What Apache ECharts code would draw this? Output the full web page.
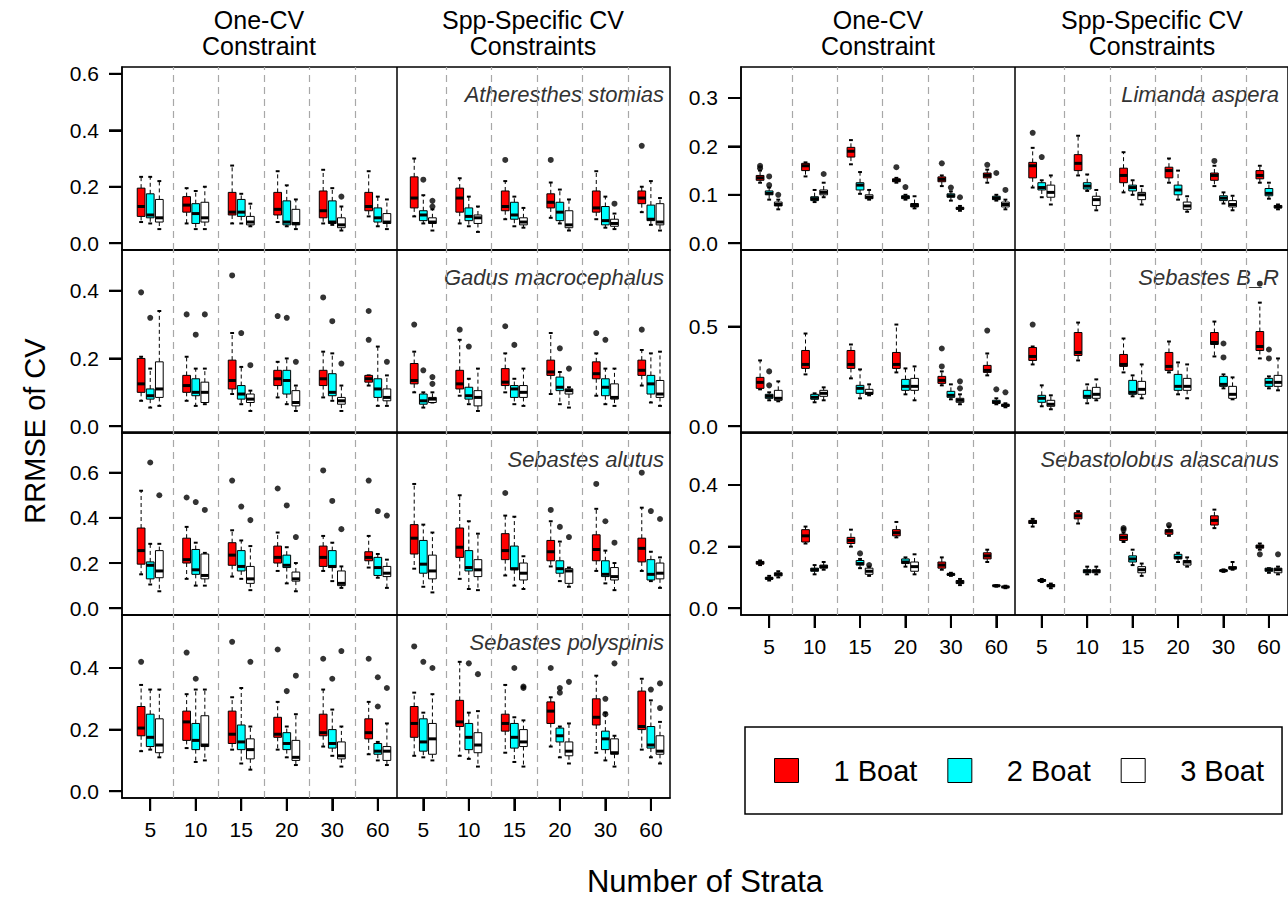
<!DOCTYPE html>
<html>
<head>
<meta charset="utf-8">
<script src="https://cdn.jsdelivr.net/npm/echarts@6.0.0/dist/echarts.min.js"></script>
<style>
html,body{margin:0;padding:0;background:#fff}
#chart{width:1288px;height:900px}
</style>
</head>
<body>
<div id="chart"></div>
<script>
// labels
var strataLabels=['5','10','15','20','30','60'];
var boatNames=['1 Boat','2 Boat','3 Boat'];
var constraintNames=[['One-CV','Constraint'],['Spp-Specific CV','Constraints']];
var speciesNames=['Atheresthes stomias','Gadus macrocephalus','Sebastes alutus','Sebastes polyspinis','Limanda aspera','Sebastes B_R','Sebastolobus alascanus'];
// y range top (before R's 4% padding) and tick labels of every panel
var yTop=[0.6,0.5,0.75,0.55,0.35,0.85,0.55];
var yTicks=[[0,0.2,0.4,0.6],[0,0.2,0.4],[0,0.2,0.4,0.6],[0,0.2,0.4],[0,0.1,0.2,0.3],[0,0.5],[0,0.2,0.4]];

// box stats [lower whisker, q1, median, q3, upper whisker]
// 12 rows per boat: strata 5..60 with One-CV, then strata 5..60 with spp-specific CVs
// outliers: [group, boat, value]

// Atheresthes stomias
var ath1=[[0.075,0.095,0.13,0.195,0.235],[0.07,0.11,0.135,0.165,0.195],[0.07,0.10,0.11,0.18,0.275],[0.075,0.10,0.12,0.18,0.255],[0.07,0.09,0.115,0.185,0.26],[0.095,0.115,0.13,0.18,0.255],
  [0.095,0.125,0.16,0.235,0.30],[0.07,0.11,0.16,0.195,0.23],[0.085,0.115,0.13,0.185,0.22],[0.09,0.125,0.145,0.175,0.215],[0.085,0.11,0.125,0.185,0.255],[0.11,0.14,0.16,0.185,0.20]];
var ath2=[[0.07,0.09,0.10,0.175,0.235],[0.05,0.07,0.105,0.14,0.185],[0.07,0.095,0.11,0.155,0.175],[0.06,0.065,0.075,0.15,0.205],[0.065,0.07,0.075,0.15,0.195],[0.06,0.075,0.09,0.125,0.165],
  [0.07,0.08,0.10,0.115,0.17],[0.06,0.08,0.095,0.125,0.165],[0.06,0.085,0.10,0.145,0.165],[0.07,0.08,0.11,0.145,0.19],[0.055,0.065,0.08,0.13,0.165],[0.065,0.08,0.085,0.135,0.22]];
var ath3=[[0.05,0.075,0.09,0.155,0.22],[0.05,0.075,0.09,0.145,0.2],[0.06,0.065,0.075,0.095,0.14],[0.05,0.065,0.07,0.12,0.155],[0.045,0.055,0.065,0.09,0.13],[0.05,0.07,0.075,0.105,0.155],
  [0.045,0.07,0.075,0.09,0.12],[0.04,0.07,0.09,0.10,0.13],[0.055,0.065,0.075,0.09,0.125],[0.045,0.055,0.065,0.115,0.155],[0.05,0.06,0.07,0.085,0.105],[0.045,0.065,0.075,0.14,0.16]];
var athOut=[[4,2,0.165],[6,1,0.225],[6,2,0.15],[6,2,0.13],[8,0,0.295],[9,0,0.295],[10,2,0.14],[11,0,0.345]];

// Gadus macrocephalus
var gad1=[[0.075,0.10,0.125,0.20,0.205],[0.075,0.10,0.12,0.15,0.205],[0.095,0.11,0.135,0.195,0.275],[0.085,0.12,0.14,0.165,0.19],[0.085,0.12,0.14,0.165,0.22],[0.12,0.13,0.14,0.15,0.15],
  [0.10,0.125,0.135,0.185,0.22],[0.09,0.11,0.125,0.165,0.255],[0.10,0.12,0.13,0.17,0.215],[0.095,0.15,0.16,0.195,0.275],[0.09,0.14,0.155,0.19,0.215],[0.12,0.15,0.165,0.195,0.225]];
var gad2=[[0.055,0.08,0.09,0.11,0.17],[0.06,0.09,0.10,0.14,0.17],[0.065,0.08,0.095,0.12,0.175],[0.065,0.095,0.135,0.165,0.20],[0.075,0.09,0.10,0.155,0.215],[0.06,0.085,0.11,0.14,0.235],
  [0.055,0.065,0.075,0.095,0.10],[0.065,0.08,0.09,0.115,0.14],[0.065,0.085,0.11,0.12,0.14],[0.065,0.105,0.115,0.145,0.16],[0.065,0.09,0.115,0.14,0.17],[0.07,0.095,0.125,0.15,0.215]];
var gad3=[[0.06,0.085,0.11,0.19,0.34],[0.065,0.07,0.10,0.13,0.17],[0.045,0.07,0.08,0.095,0.105],[0.045,0.06,0.07,0.105,0.12],[0.045,0.065,0.075,0.085,0.12],[0.06,0.075,0.085,0.11,0.15],
  [0.07,0.07,0.08,0.085,0.10],[0.045,0.06,0.085,0.105,0.17],[0.06,0.085,0.10,0.12,0.17],[0.055,0.095,0.105,0.11,0.115],[0.06,0.08,0.085,0.125,0.17],[0.06,0.085,0.095,0.135,0.22]];
var gadOut=[[0,0,0.395],[0,1,0.32],[1,0,0.33],[1,1,0.27],[1,2,0.33],[2,0,0.445],[2,1,0.275],[2,2,0.18],[3,0,0.325],[3,1,0.32],[3,2,0.19],[4,0,0.38],[4,1,0.31],[4,2,0.185],
  [5,0,0.34],[5,0,0.255],[5,2,0.19],[6,0,0.30],[6,1,0.165],[6,2,0.145],[6,2,0.125],[7,0,0.285],[7,1,0.235],[8,0,0.295],[8,1,0.24],[9,1,0.23],[9,2,0.17],[10,0,0.275],[10,1,0.255],[11,0,0.285]];

// Sebastes alutus
var alu1=[[0.15,0.195,0.255,0.355,0.52],[0.13,0.20,0.215,0.31,0.36],[0.14,0.19,0.235,0.29,0.345],[0.165,0.20,0.225,0.275,0.335],[0.165,0.185,0.225,0.275,0.32],[0.18,0.21,0.225,0.25,0.32],
  [0.175,0.24,0.31,0.37,0.55],[0.13,0.225,0.27,0.355,0.50],[0.145,0.215,0.255,0.33,0.41],[0.185,0.21,0.25,0.30,0.385],[0.165,0.21,0.26,0.325,0.44],[0.165,0.205,0.265,0.31,0.445]];
var alu2=[[0.105,0.13,0.19,0.205,0.285],[0.10,0.15,0.17,0.26,0.29],[0.13,0.165,0.185,0.255,0.30],[0.11,0.18,0.19,0.235,0.27],[0.12,0.18,0.185,0.255,0.29],[0.135,0.145,0.18,0.225,0.24],
  [0.095,0.155,0.195,0.30,0.37],[0.085,0.165,0.18,0.255,0.385],[0.10,0.17,0.175,0.275,0.405],[0.12,0.155,0.175,0.21,0.295],[0.11,0.14,0.15,0.21,0.255],[0.12,0.125,0.15,0.215,0.25]];
var alu3=[[0.075,0.135,0.165,0.255,0.285],[0.10,0.13,0.145,0.24,0.245],[0.08,0.11,0.13,0.185,0.275],[0.075,0.12,0.13,0.16,0.20],[0.09,0.10,0.11,0.165,0.185],[0.09,0.14,0.155,0.185,0.215],
  [0.07,0.13,0.165,0.235,0.335],[0.08,0.14,0.17,0.215,0.33],[0.085,0.125,0.155,0.20,0.23],[0.095,0.11,0.165,0.175,0.18],[0.08,0.125,0.14,0.18,0.20],[0.09,0.13,0.155,0.20,0.225]];
var aluOut=[[0,1,0.645],[0,2,0.50],[1,0,0.49],[1,1,0.47],[1,2,0.435],[2,0,0.565],[2,1,0.45],[2,2,0.39],[3,0,0.53],[3,1,0.455],[3,2,0.315],[4,0,0.61],[4,1,0.475],[4,2,0.35],
  [5,0,0.565],[5,1,0.43],[5,2,0.41],[8,0,0.51],[9,0,0.435],[9,1,0.36],[9,2,0.315],[10,0,0.55],[10,1,0.385],[10,2,0.29],[11,0,0.60],[11,1,0.43],[11,2,0.395]];

// Sebastes polyspinis
var pol1=[[0.13,0.18,0.205,0.275,0.345],[0.14,0.165,0.225,0.26,0.315],[0.135,0.155,0.185,0.26,0.305],[0.135,0.175,0.185,0.24,0.29],[0.145,0.18,0.19,0.25,0.33],[0.12,0.17,0.19,0.235,0.29],
  [0.115,0.175,0.22,0.275,0.32],[0.115,0.21,0.225,0.295,0.42],[0.125,0.195,0.22,0.25,0.345],[0.145,0.22,0.26,0.29,0.305],[0.125,0.215,0.24,0.30,0.375],[0.135,0.20,0.21,0.325,0.365]];
var pol2=[[0.135,0.145,0.175,0.25,0.33],[0.095,0.135,0.165,0.22,0.33],[0.09,0.135,0.16,0.215,0.335],[0.11,0.135,0.155,0.19,0.21],[0.115,0.14,0.155,0.20,0.265],[0.10,0.12,0.13,0.155,0.16],
  [0.11,0.13,0.16,0.235,0.255],[0.105,0.135,0.175,0.22,0.255],[0.095,0.14,0.175,0.22,0.24],[0.11,0.16,0.18,0.205,0.21],[0.10,0.135,0.17,0.195,0.255],[0.11,0.14,0.15,0.21,0.295]];
var pol3=[[0.11,0.125,0.15,0.235,0.33],[0.10,0.145,0.15,0.245,0.33],[0.07,0.105,0.135,0.17,0.21],[0.085,0.10,0.11,0.165,0.25],[0.08,0.105,0.115,0.16,0.21],[0.085,0.10,0.13,0.145,0.22],
  [0.10,0.12,0.17,0.22,0.315],[0.08,0.125,0.15,0.19,0.26],[0.08,0.145,0.16,0.20,0.23],[0.09,0.115,0.13,0.16,0.22],[0.08,0.12,0.125,0.17,0.18],[0.09,0.12,0.13,0.18,0.225]];
var polOut=[[0,0,0.42],[1,0,0.45],[1,1,0.365],[2,0,0.485],[2,2,0.42],[3,0,0.46],[3,1,0.325],[3,2,0.375],[4,0,0.43],[4,1,0.365],[4,2,0.455],[5,0,0.43],[5,1,0.37],[5,1,0.275],[5,2,0.335],
  [6,0,0.47],[6,1,0.42],[6,2,0.40],[7,1,0.415],[7,2,0.38],[8,1,0.40],[8,2,0.34],[8,2,0.335],[9,0,0.40],[9,1,0.335],[9,1,0.32],[9,2,0.355],[10,1,0.30],[10,1,0.25],[10,2,0.415],[11,1,0.33],[11,2,0.35],[11,2,0.27]];

// Limanda aspera
var lim1=[[0.125,0.13,0.135,0.14,0.15],[0.138,0.15,0.16,0.165,0.167],[0.163,0.178,0.19,0.198,0.213],[0.125,0.127,0.13,0.133,0.135],[0.118,0.127,0.132,0.137,0.14],[0.125,0.135,0.14,0.145,0.152],
  [0.115,0.135,0.16,0.167,0.197],[0.14,0.15,0.165,0.183,0.222],[0.105,0.125,0.14,0.155,0.188],[0.125,0.135,0.15,0.157,0.175],[0.118,0.13,0.14,0.145,0.16],[0.125,0.133,0.14,0.15,0.16]];
var lim2=[[0.09,0.10,0.103,0.108,0.115],[0.085,0.088,0.092,0.096,0.11],[0.102,0.11,0.12,0.125,0.147],[0.09,0.092,0.095,0.098,0.10],[0.088,0.095,0.098,0.102,0.107],[0.088,0.09,0.093,0.097,0.10],
  [0.095,0.11,0.115,0.125,0.13],[0.108,0.112,0.118,0.125,0.142],[0.10,0.108,0.115,0.12,0.13],[0.09,0.10,0.11,0.12,0.15],[0.082,0.088,0.093,0.098,0.105],[0.092,0.098,0.103,0.113,0.125]];
var lim3=[[0.07,0.077,0.08,0.085,0.09],[0.095,0.10,0.105,0.11,0.125],[0.09,0.092,0.095,0.10,0.11],[0.072,0.075,0.078,0.082,0.097],[0.067,0.07,0.072,0.074,0.077],[0.07,0.075,0.08,0.085,0.09],
  [0.08,0.095,0.105,0.12,0.14],[0.068,0.078,0.09,0.097,0.11],[0.08,0.09,0.10,0.105,0.118],[0.065,0.07,0.077,0.085,0.097],[0.068,0.075,0.08,0.088,0.098],[0.07,0.073,0.075,0.078,0.08]];
var limOut=[[0,0,0.155],[0,0,0.16],[0,1,0.12],[0,1,0.138],[0,2,0.10],[1,2,0.143],[3,0,0.157],[3,1,0.116],[4,0,0.165],[4,1,0.115],[4,2,0.095],[5,0,0.162],[5,1,0.145],[5,2,0.11],[6,0,0.228],[6,1,0.178],[10,0,0.17]];

// Sebastes B_R
var bor1=[[0.185,0.19,0.22,0.245,0.33],[0.26,0.29,0.31,0.38,0.465],[0.24,0.29,0.31,0.38,0.41],[0.27,0.29,0.31,0.37,0.51],[0.205,0.215,0.23,0.25,0.275],[0.255,0.27,0.28,0.305,0.365],
  [0.31,0.33,0.35,0.395,0.40],[0.33,0.355,0.37,0.47,0.52],[0.27,0.30,0.31,0.36,0.44],[0.27,0.28,0.30,0.37,0.425],[0.35,0.41,0.42,0.47,0.525],[0.34,0.38,0.40,0.475,0.62]];
var bor2=[[0.13,0.14,0.15,0.16,0.17],[0.12,0.135,0.145,0.16,0.165],[0.14,0.165,0.19,0.205,0.285],[0.16,0.18,0.20,0.235,0.29],[0.135,0.145,0.155,0.175,0.21],[0.11,0.115,0.12,0.13,0.14],
  [0.10,0.12,0.14,0.155,0.205],[0.115,0.14,0.15,0.18,0.21],[0.15,0.16,0.17,0.23,0.255],[0.16,0.18,0.20,0.26,0.32],[0.19,0.20,0.21,0.25,0.26],[0.19,0.20,0.22,0.24,0.25]];
var bor3=[[0.125,0.13,0.14,0.18,0.225],[0.13,0.15,0.165,0.18,0.195],[0.155,0.16,0.165,0.185,0.21],[0.13,0.18,0.20,0.24,0.30],[0.11,0.12,0.13,0.14,0.16],[0.095,0.10,0.105,0.11,0.115],
  [0.085,0.10,0.11,0.13,0.155],[0.13,0.14,0.16,0.195,0.235],[0.14,0.16,0.185,0.225,0.31],[0.14,0.18,0.20,0.24,0.31],[0.135,0.14,0.16,0.20,0.245],[0.18,0.20,0.22,0.255,0.34]];
var borOut=[[0,1,0.205],[0,1,0.275],[4,0,0.30],[4,0,0.39],[4,2,0.19],[4,2,0.225],[5,0,0.48],[5,1,0.185],[5,2,0.17],[6,0,0.51],[10,1,0.345],[10,1,0.415],[11,0,0.715],[11,1,0.34],[11,1,0.385]];

// Sebastolobus alascanus
var ala1=[[0.14,0.143,0.148,0.152,0.155],[0.21,0.215,0.235,0.255,0.265],[0.20,0.21,0.22,0.23,0.255],[0.23,0.235,0.245,0.255,0.28],[0.125,0.13,0.14,0.15,0.165],[0.15,0.16,0.17,0.18,0.19],
  [0.265,0.275,0.28,0.285,0.29],[0.275,0.29,0.30,0.31,0.315],[0.215,0.22,0.23,0.24,0.245],[0.235,0.24,0.25,0.255,0.265],[0.26,0.27,0.285,0.30,0.32],[0.19,0.195,0.20,0.205,0.21]];
var ala2=[[0.09,0.094,0.097,0.10,0.105],[0.11,0.12,0.125,0.13,0.14],[0.13,0.14,0.145,0.155,0.16],[0.135,0.145,0.15,0.16,0.165],[0.105,0.107,0.11,0.112,0.115],[0.07,0.072,0.073,0.074,0.075],
  [0.085,0.088,0.09,0.093,0.095],[0.11,0.115,0.12,0.125,0.135],[0.14,0.15,0.16,0.17,0.19],[0.15,0.16,0.165,0.175,0.18],[0.118,0.12,0.122,0.124,0.126],[0.115,0.12,0.125,0.13,0.13]];
var ala3=[[0.10,0.105,0.11,0.115,0.12],[0.125,0.13,0.135,0.14,0.15],[0.105,0.11,0.12,0.13,0.135],[0.11,0.12,0.135,0.15,0.175],[0.075,0.08,0.085,0.09,0.095],[0.065,0.067,0.069,0.071,0.073],
  [0.065,0.07,0.073,0.077,0.08],[0.11,0.115,0.12,0.125,0.135],[0.105,0.115,0.125,0.135,0.145],[0.135,0.14,0.15,0.155,0.165],[0.125,0.128,0.13,0.135,0.15],[0.11,0.115,0.125,0.13,0.135]];
var alaOut=[[2,1,0.178],[2,2,0.14],[8,0,0.255],[8,0,0.26],[9,0,0.27],[11,0,0.175],[11,2,0.175]];

var panelBoxes=[[ath1,ath2,ath3],[gad1,gad2,gad3],[alu1,alu2,alu3],[pol1,pol2,pol3],[lim1,lim2,lim3],[bor1,bor2,bor3],[ala1,ala2,ala3]];
var panelOutliers=[athOut,gadOut,aluOut,polOut,limOut,borOut,alaOut];

var boatColors=['#ff0000','#00ffff','#ffffff'];
var font='Liberation Sans, Arial, Helvetica, sans-serif';
var colLeft=[122,741],panelW=548,panelTop=[67,250,432,615],panelH=183;
var xMin=-3.1,xMax=57.1;
var tickLen=13;

var groupCenters=[];
for(var g=0;g<12;g++) groupCenters.push(5*g);

// dashed lines between strata, solid line between the two constraint types
var dividers=[];
for(var g=0;g<11;g++){
	if(g==5) continue;
	dividers.push({xAxis:5*g+2.5,lineStyle:{type:[7,5],color:'#a8a8a8',width:1.2}});
}
dividers.push({xAxis:27.05,lineStyle:{type:'solid',color:'#000',width:1.5}});

function renderBox(params,api){
	var x=api.value(0);
	var lo=api.coord([x,api.value(1)]);
	var q1=api.coord([x,api.value(2)]);
	var md=api.coord([x,api.value(3)]);
	var q3=api.coord([x,api.value(4)]);
	var hi=api.coord([x,api.value(5)]);
	var hw=api.size([0.85,0])[0]/2;
	var cw=hw/2;
	var cx=lo[0];
	var dash={stroke:'#000',lineWidth:1,lineDash:[4,3]};
	var cap={stroke:'#000',lineWidth:2};
	return {type:'group',children:[
		{type:'line',shape:{x1:cx,y1:q3[1],x2:cx,y2:hi[1]},style:dash},
		{type:'line',shape:{x1:cx,y1:q1[1],x2:cx,y2:lo[1]},style:dash},
		{type:'line',shape:{x1:cx-cw,y1:hi[1],x2:cx+cw,y2:hi[1]},style:cap},
		{type:'line',shape:{x1:cx-cw,y1:lo[1],x2:cx+cw,y2:lo[1]},style:cap},
		{type:'rect',shape:{x:cx-hw,y:q3[1],width:2*hw,height:q1[1]-q3[1]},style:{fill:api.visual('color'),stroke:'#000',lineWidth:1}},
		{type:'line',shape:{x1:cx-hw,y1:md[1],x2:cx+hw,y2:md[1]},style:{stroke:'#000',lineWidth:3}}
	]};
}

var tickStyle={color:'#000',width:2};
var grids=[],xAxes=[],yAxes=[],series=[],graphics=[];
for(var p=0;p<7;p++){
	var col=p<4?0:1;
	var row=p<4?p:p-4;
	var isBottom=(p==3||p==6);
	grids.push({left:colLeft[col],top:panelTop[row],width:panelW,height:panelH,show:true,borderColor:'#000',borderWidth:1.5,backgroundColor:'transparent'});
	xAxes.push({
		type:'value',gridIndex:p,min:xMin,max:xMax,position:'bottom',
		axisLine:{show:true,onZero:false,lineStyle:{color:'#000',width:1.5}},splitLine:{show:false},
		axisTick:{show:isBottom,inside:false,customValues:groupCenters,length:tickLen,lineStyle:tickStyle},
		axisLabel:{show:isBottom,customValues:groupCenters,margin:21,fontSize:21,color:'#000',fontFamily:font,
			formatter:function(v){return strataLabels[Math.round(v/5)%6];}}
	});
	yAxes.push({
		type:'value',gridIndex:p,min:-0.04*yTop[p],max:1.04*yTop[p],position:'left',
		axisLine:{show:true,onZero:false,lineStyle:{color:'#000',width:1.5}},splitLine:{show:false},
		axisTick:{show:true,inside:false,customValues:yTicks[p],length:tickLen,lineStyle:tickStyle},
		axisLabel:{customValues:yTicks[p],margin:23,fontSize:21,color:'#000',fontFamily:font,
			formatter:function(v){return v.toFixed(1);}}
	});
	for(var b=0;b<3;b++){
		var rows=panelBoxes[p][b].map(function(s,g){return [5*g+b-1].concat(s);});
		series.push({
			type:'custom',name:boatNames[b],xAxisIndex:p,yAxisIndex:p,
			itemStyle:{color:boatColors[b]},
			encode:{x:0,y:[1,2,3,4,5]},
			renderItem:renderBox,silent:true,z:3,
			data:rows
		});
	}
	series.push({
		type:'scatter',xAxisIndex:p,yAxisIndex:p,symbolSize:6,silent:true,z:4,
		itemStyle:{color:'#000'},
		data:panelOutliers[p].map(function(o){return [5*o[0]+o[1]-1,o[2]];}),
		markLine:{silent:true,z:1,symbol:['none','none'],label:{show:false},data:dividers}
	});
	// species name
	graphics.push({type:'text',x:col==0?664:1279,y:panelTop[row]+27,
		style:{text:speciesNames[p],align:'right',verticalAlign:'middle',fontSize:22,fontStyle:'italic',fontFamily:font,fill:'#333'}});
}

// column headers, two lines each
var headerX=[[259,533],[878,1152]];
for(var c=0;c<2;c++){
	for(var h=0;h<2;h++){
		for(var ln=0;ln<2;ln++){
			graphics.push({type:'text',x:headerX[c][h],y:ln==0?20:46,
				style:{text:constraintNames[h][ln],align:'center',verticalAlign:'middle',fontSize:25,fontFamily:font,fill:'#000'}});
		}
	}
}
graphics.push({type:'text',x:35,y:431,rotation:Math.PI/2,
	style:{text:'RRMSE of CV',align:'center',verticalAlign:'middle',fontSize:29,fontFamily:font,fill:'#000'}});
graphics.push({type:'text',x:705,y:881,
	style:{text:'Number of Strata',align:'center',verticalAlign:'middle',fontSize:31,fontFamily:font,fill:'#000'}});

var chart=echarts.init(document.getElementById('chart'),null,{renderer:'svg'});
chart.setOption({
	animation:false,
	backgroundColor:'#fff',
	grid:grids,
	xAxis:xAxes,
	yAxis:yAxes,
	legend:{
		left:745,top:727,orient:'horizontal',selectedMode:false,
		padding:[29,18,29,29],itemGap:30,itemWidth:24,itemHeight:24,
		borderColor:'#000',borderWidth:1.5,icon:'rect',
		textStyle:{fontSize:29,color:'#000',fontFamily:font,padding:[0,0,0,30]},
		data:boatNames.map(function(n,i){return {name:n,itemStyle:{color:boatColors[i],borderColor:'#000',borderWidth:1}};})
	},
	graphic:graphics,
	series:series
});

// extra tick bars outside the frames, placed through each panel's own axes
var tickMarks=[];
for(var p=0;p<7;p++){
	var yMin=-0.04*yTop[p];
	yTicks[p].forEach(function(v){
		var pt=chart.convertToPixel({gridIndex:p},[xMin,v]);
		tickMarks.push({type:'rect',z:100,shape:{x:pt[0]-tickLen,y:pt[1]-1,width:tickLen,height:2},style:{fill:'#000'}});
	});
	if(p==3||p==6){
		groupCenters.forEach(function(v){
			var pt=chart.convertToPixel({gridIndex:p},[v,yMin]);
			tickMarks.push({type:'rect',z:100,shape:{x:pt[0]-1,y:pt[1],width:2,height:tickLen},style:{fill:'#000'}});
		});
	}
}
chart.setOption({graphic:graphics.concat(tickMarks)});
</script>
</body>
</html>
